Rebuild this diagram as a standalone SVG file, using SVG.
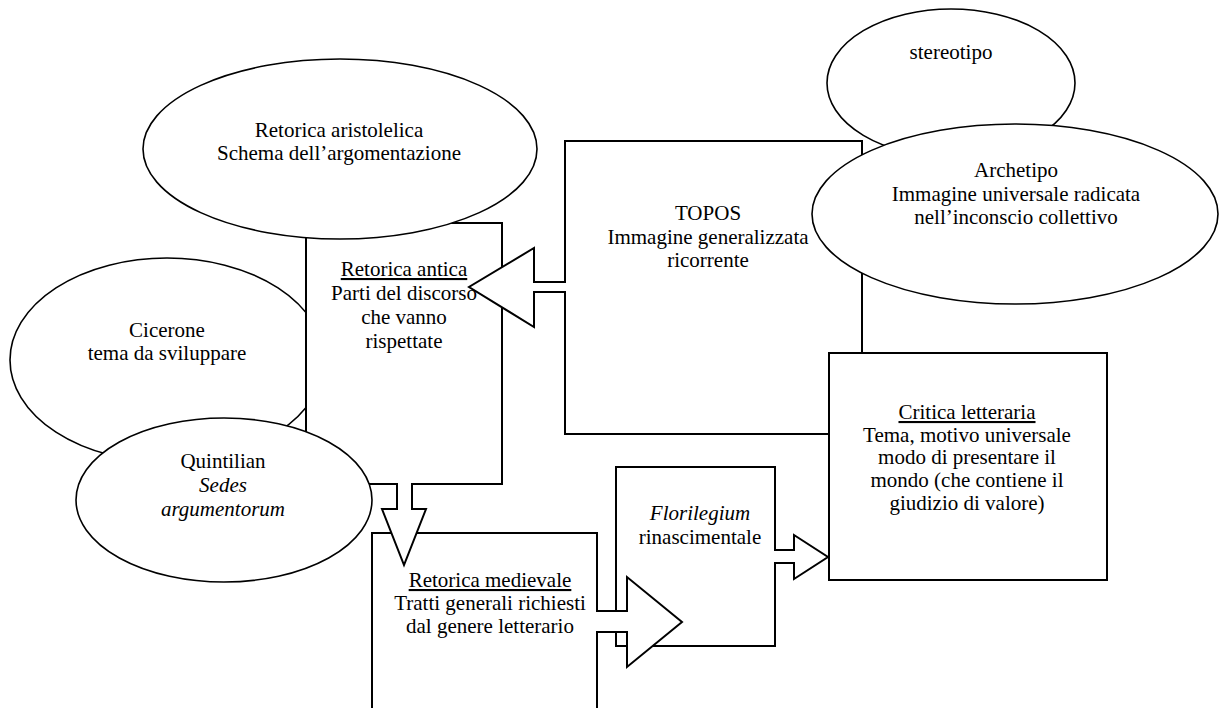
<svg xmlns="http://www.w3.org/2000/svg" width="1219" height="708" viewBox="0 0 1219 708">
<style>
.box{fill:#fff;stroke:#000;stroke-width:2}
.ell{fill:#fff;stroke:#000;stroke-width:1.6}
.arr{fill:#fff;stroke:#000;stroke-width:2;stroke-linejoin:miter}
text{font-family:"Liberation Serif","Times New Roman",serif;font-size:21px;fill:#000;text-anchor:middle}
.u{text-decoration:underline}
.i{font-style:italic}
</style>
<rect width="1219" height="708" fill="#fff"/>
<g id="florilegium">
<rect class="box" x="616" y="467" width="159" height="179"/>
<text x="700" y="520" class="i">Florilegium</text>
<text x="700" y="544">rinascimentale</text>
</g>
<g id="retorica-medievale">
<rect class="box" x="372" y="533" width="225" height="190"/>
<text x="490" y="587" class="u">Retorica medievale</text>
<text x="490" y="610">Tratti generali richiesti</text>
<text x="490" y="633">dal genere letterario</text>
</g>
<g id="cicerone">
<ellipse class="ell" cx="167" cy="360" rx="157" ry="102"/>
<text x="167" y="337">Cicerone</text>
<text x="167" y="360">tema da sviluppare</text>
</g>
<g id="retorica-antica">
<rect class="box" x="306" y="223" width="196" height="261"/>
<text x="404" y="276" class="u">Retorica antica</text>
<text x="404" y="300">Parti del discorso</text>
<text x="404" y="324">che vanno</text>
<text x="404" y="348">rispettate</text>
</g>
<g id="topos">
<rect class="box" x="565" y="141" width="297" height="293"/>
<text x="708" y="220">TOPOS</text>
<text x="708" y="244">Immagine generalizzata</text>
<text x="708" y="267">ricorrente</text>
</g>
<g id="retorica-aristotelica">
<ellipse class="ell" cx="340" cy="149" rx="197" ry="90"/>
<text x="339" y="137">Retorica aristolelica</text>
<text x="339" y="160">Schema dell’argomentazione</text>
</g>
<g id="quintilian">
<ellipse class="ell" cx="224" cy="500" rx="148" ry="82"/>
<text x="223" y="468">Quintilian</text>
<text x="223" y="492" class="i">Sedes</text>
<text x="223" y="516" class="i">argumentorum</text>
</g>
<g id="stereotipo">
<ellipse class="ell" cx="951" cy="83" rx="124" ry="74"/>
<text x="951" y="59">stereotipo</text>
</g>
<g id="archetipo">
<ellipse class="ell" cx="1015" cy="214" rx="203" ry="90"/>
<text x="1016" y="177">Archetipo</text>
<text x="1016" y="201">Immagine universale radicata</text>
<text x="1016" y="224">nell’inconscio collettivo</text>
</g>
<g id="critica-letteraria">
<rect class="box" x="829" y="353" width="278" height="227"/>
<text x="967" y="419" class="u">Critica letteraria</text>
<text x="967" y="442">Tema, motivo universale</text>
<text x="967" y="464">modo di presentare il</text>
<text x="967" y="487">mondo (che contiene il</text>
<text x="967" y="510">giudizio di valore)</text>
</g>
<g id="connectors">
<path class="arr" d="M397,483 V509 H382 L404,565 L426,509 H412 V483"/>
<path class="arr" d="M566,282 H534 V248 L469,287 L534,327 V292 H566"/>
<path class="arr" d="M596,611 H627 V577 L682,622 L627,667 V632 H596"/>
<path class="arr" d="M774,550 H794 V535 L828,557 L794,579 V563 H774"/>
</g>
</svg>
